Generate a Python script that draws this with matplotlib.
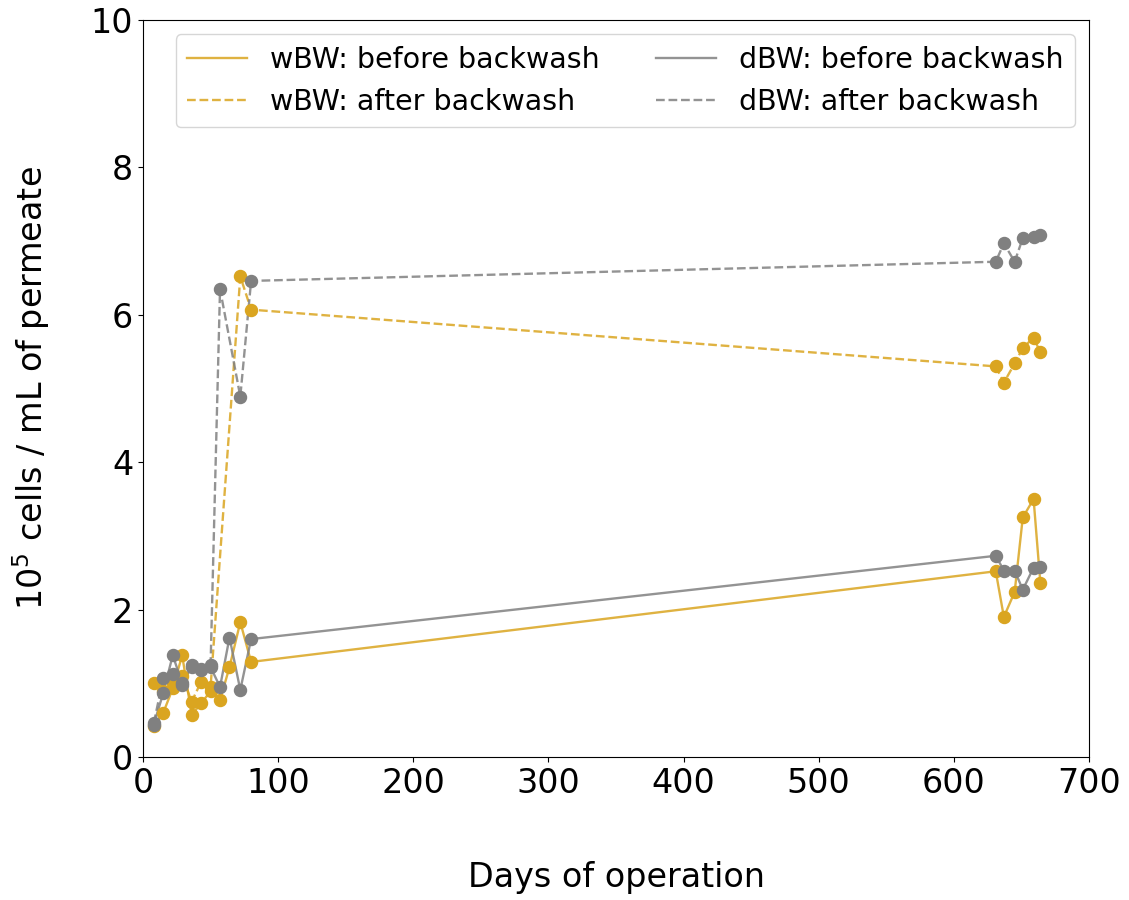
import matplotlib
matplotlib.use("Agg")
import matplotlib.pyplot as plt

# Sampling days
days_before = [8, 15, 22, 29, 36, 43, 50, 57, 64, 72, 80, 631, 637, 645, 651, 659, 664]
days_after_w = [8, 15, 22, 29, 36, 43, 50, 72, 80, 631, 637, 645, 651, 659, 664]
days_after_d = [8, 15, 22, 29, 36, 43, 50, 57, 72, 80, 631, 637, 645, 651, 659, 664]

# 10^5 cells / mL of permeate
wbw_before = [0.42, 0.60, 0.93, 1.38, 0.57, 0.73, 0.89, 0.77, 1.22, 1.83, 1.29,
              2.52, 1.90, 2.24, 3.25, 3.50, 2.36]
dbw_before = [0.44, 0.87, 1.38, 1.00, 1.22, 1.20, 1.22, 0.95, 1.62, 0.91, 1.60,
              2.73, 2.53, 2.53, 2.27, 2.57, 2.58]
wbw_after = [1.00, 0.90, 1.00, 1.10, 0.75, 1.02, 0.95, 6.52, 6.07,
             5.30, 5.08, 5.34, 5.55, 5.69, 5.49]
dbw_after = [0.46, 1.07, 1.12, 0.98, 1.25, 1.18, 1.25, 6.35, 4.89, 6.46,
             6.72, 6.97, 6.72, 7.04, 7.06, 7.08]

GOLD = "goldenrod"
GREY = "grey"

plt.rcParams['font.family'] = ['DejaVu Sans']
fig = plt.figure(figsize=(11.29, 9), dpi=100)
ax = fig.add_axes([143/1129, 1-757/900, (1089-143)/1129, (757-20)/900])

ms = 75
ax.plot(days_before, wbw_before, color=GOLD, lw=1.7, alpha=0.85, label="wBW: before backwash")
ax.plot(days_after_w, wbw_after, color=GOLD, lw=1.7, ls="--", alpha=0.85, label="wBW: after backwash")
ax.plot(days_before, dbw_before, color=GREY, lw=1.7, alpha=0.85, label="dBW: before backwash")
ax.plot(days_after_d, dbw_after, color=GREY, lw=1.7, ls="--", alpha=0.85, label="dBW: after backwash")
ax.scatter(days_before, wbw_before, color=GOLD, s=ms, zorder=3)
ax.scatter(days_after_w, wbw_after, color=GOLD, s=ms, zorder=3)
ax.scatter(days_before, dbw_before, color=GREY, s=ms, zorder=3)
ax.scatter(days_after_d, dbw_after, color=GREY, s=ms, zorder=3)

ax.set_xlim(0, 700)
ax.set_ylim(0, 10)
ax.set_xticks(range(0, 701, 100))
ax.set_yticks(range(0, 11, 2))
ax.tick_params(labelsize=24)
ax.set_xlabel("Days of operation", fontsize=24, labelpad=44)
ax.set_ylabel("10$^5$ cells / mL of permeate", fontsize=24, labelpad=28)
ax.legend(ncol=2, fontsize=20.5, loc="upper right", columnspacing=2.0,
          handlelength=2.1, handletextpad=0.8)

fig.savefig("out.png", dpi=100)
